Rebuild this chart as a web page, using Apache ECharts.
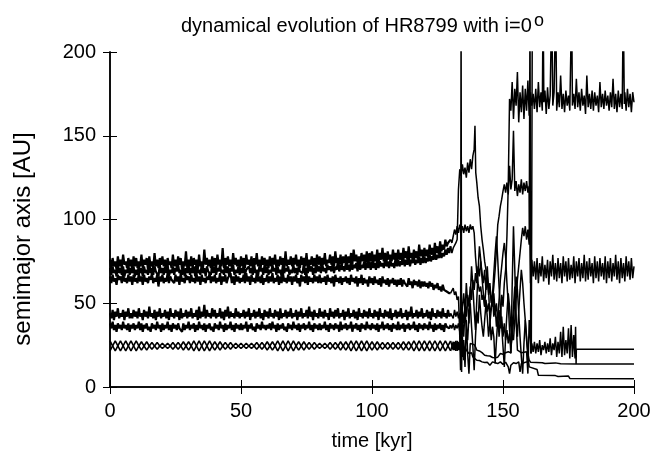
<!DOCTYPE html>
<html>
<head>
<meta charset="utf-8">
<script src="https://cdn.jsdelivr.net/npm/echarts@6/dist/echarts.min.js"></script>
<style>
html,body{margin:0;padding:0;background:#fff;}
#chart{width:667px;height:456px;}
</style>
</head>
<body>
<div id="chart"></div>
<script>
// Tick values
const xTicks = [0, 50, 100, 150, 200];
const yTicks = [0, 50, 100, 150, 200];

// Stable phase of the outer bands, sampled every 0.5 kyr from t = 0 to 130 kyr
const bandUpper = [
76,71,77,72,75,70,78,72,76,71,79,73,75,71,77,72,76,70,78,72,
77,71,75,72,79,71,76,73,77,70,78,72,75,71,80,72,76,71,77,73,
78,72,76,70,77,73,75,71,79,72,76,71,78,73,77,70,75,72,81,71,
76,72,78,71,77,73,76,70,79,72,75,71,82,73,77,72,76,71,78,72,
77,71,79,73,76,72,83,71,77,73,78,72,76,71,80,73,77,72,76,71,
78,72,77,71,79,73,76,72,78,71,77,73,80,72,76,71,78,73,77,72,
76,71,78,72,77,73,79,71,76,72,78,73,77,71,81,72,76,73,78,72,
77,73,79,72,76,71,78,73,77,72,80,71,76,73,78,72,77,71,79,73,
78,72,77,73,80,72,76,74,79,73,78,72,81,74,77,73,79,72,78,74,
79,73,78,74,80,73,82,75,79,74,78,73,80,75,79,74,81,73,80,75,
81,74,79,75,82,74,80,76,83,75,80,74,81,76,79,75,82,76,80,75,
82,76,80,75,83,77,81,76,84,77,80,76,82,77,81,76,85,78,82,77,
83,78,82,77,85,79,83,78,86,80,84,79,87,81,85,82,88,84,86,85,
88];
const bandMid = [
71,67,72,68,70,66,73,68,71,67,72,66,70,68,73,67,71,68,72,66,
70,67,73,68,71,66,72,68,70,67,74,68,71,67,72,69,70,66,73,68,
71,67,72,68,73,66,70,68,72,67,71,69,73,68,70,67,72,66,71,68,
73,67,71,68,72,66,74,68,70,67,73,68,71,66,72,69,70,67,73,68,
72,67,71,69,73,68,70,67,74,68,72,66,71,69,73,67,70,68,72,67,
71,68,73,67,70,69,72,68,71,67,74,68,70,66,72,69,71,67,73,68,
72,67,70,68,73,69,71,67,72,68,70,66,73,68,71,69,72,67,70,68,
73,68,71,67,72,69,70,68,74,67,71,68,73,69,72,67,71,68,73,69,
72,68,74,69,71,68,73,70,72,69,74,68,72,70,75,69,73,70,72,69,
74,70,73,69,75,70,73,71,74,69,76,70,73,71,75,70,74,71,75,70,
75,71,74,70,76,71,75,72,74,71,77,72,75,71,76,72,74,71,77,72,
76,72,75,73,77,72,76,73,78,72,76,74,77,73,76,74,78,73,77,74,
78,74,77,75,79,75,78,76,80,76,79,77,81,77,80,78,82,79,83,80,
84];
const bandLow = [
66,62,67,63,65,61,67,64,66,62,68,63,65,62,67,63,66,61,67,63,
65,62,68,63,66,61,67,63,65,62,66,64,68,62,65,63,67,60,66,63,
67,62,65,63,68,62,66,64,65,62,67,63,66,61,68,63,65,62,67,64,
66,62,67,63,65,62,68,63,66,61,67,63,65,62,66,64,68,62,66,63,
67,62,65,63,68,61,66,63,67,62,65,64,68,62,66,61,67,63,66,62,
65,63,67,62,68,63,66,61,67,63,65,62,68,63,66,62,67,61,65,63,
67,62,66,63,68,62,65,63,67,61,66,62,68,63,65,62,67,63,66,61,
66,63,67,62,65,60,67,63,66,62,68,61,66,63,65,62,67,63,66,62,
67,62,65,63,66,61,67,63,65,62,66,60,67,63,65,62,66,61,65,63,
66,62,65,61,67,63,65,62,66,60,65,62,67,61,65,62,64,60,66,62,
65,61,66,62,64,61,65,60,66,62,64,61,65,60,64,62,65,61,64,60,
64,61,65,60,64,62,63,60,65,61,63,59,64,61,63,60,64,59,63,60,
63,60,62,59,63,60,62,58,61,59,62,58,60,57,61,58,59,57,58,56,
56];
const midUpper = [
44,41,46,40,45,42,47,41,44,42,46,40,45,42,47,41,44,41,46,42,
45,41,47,42,44,40,46,42,45,41,48,42,44,41,46,40,45,42,47,41,
44,42,46,41,45,40,47,42,44,41,46,42,45,40,47,41,44,42,46,41,
45,42,47,41,44,42,46,40,48,41,45,42,49,41,46,42,44,41,47,42,
46,41,44,42,47,41,45,40,46,42,48,41,45,42,44,41,47,42,45,41,
44,42,46,41,45,42,47,40,44,42,46,41,45,42,47,41,44,40,46,42,
45,41,47,42,44,41,46,42,45,40,47,41,44,42,46,41,45,42,47,41,
44,42,46,40,45,42,47,41,44,42,46,41,48,42,45,40,46,42,44,41,
47,42,45,41,46,42,44,40,47,42,45,41,46,42,47,41,44,42,46,40,
45,42,47,41,44,42,46,41,45,40,47,42,44,41,46,42,45,41,47,42,
44,41,46,42,45,40,47,42,44,41,46,42,45,41,47,40,44,42,46,41,
45,42,47,41,44,42,46,40,45,42,48,41,44,42,46,41,45,42,47,41,
44,42,46,41,45,40,47,42,44,41,46,42,45,41,47,42,44,41,46,42,
44];
const midLower = [
38,35,39,34,37,33,38,35,37,34,39,35,37,34,38,33,37,35,38,34,
37,35,39,34,38,33,37,35,38,34,36,33,38,35,37,34,39,35,37,33,
38,34,37,35,39,34,37,33,38,35,37,34,38,35,36,33,38,34,37,35,
39,34,37,35,38,33,37,34,39,35,37,34,38,33,37,35,38,34,36,33,
38,35,37,34,39,35,37,33,38,34,37,35,39,34,37,33,38,35,37,34,
38,34,37,35,39,33,37,35,38,34,36,33,38,35,37,34,39,35,37,34,
37,35,38,34,39,35,37,33,38,34,37,35,38,34,36,33,38,35,37,34,
39,35,37,34,38,33,37,35,38,34,37,35,39,34,37,33,38,35,37,34,
38,34,37,35,39,34,37,33,38,35,37,34,38,35,37,33,39,34,37,35,
38,34,37,35,39,33,37,35,38,34,37,33,38,35,37,34,39,35,37,34,
38,35,37,34,38,33,37,35,39,34,37,35,38,34,37,33,38,35,37,34,
39,34,37,35,38,33,37,35,38,34,37,35,39,34,37,33,38,35,37,34,
38,35,37,34,39,35,37,33,38,34,37,35,38,34,37,33,38,36,37,35,
37];
// Inner braided pair, sampled every 1 kyr from t = 0 to 130 kyr
const innerA = [
27.5,24.5,21.5,24.5,27.5,24.5,21.5,24.5,27.5,24.5,21.5,24.5,27,24.5,22,24.5,26.5,24.5,22.5,24.5,
26,24.5,23,24.5,26.5,24.5,22.5,24.5,27,24.5,22,24.5,27.5,24.5,21.5,24.5,27.5,24.5,21.5,24.5,
27,24.5,22,24.5,26.5,24.5,22.5,24.5,26,24.5,23,24.5,26,24.5,23,24.5,26.5,24.5,22.5,24.5,
27,24.5,22,24.5,27.5,24.5,21.5,24.5,27.5,24.5,21.5,24.5,27,24.5,22,24.5,26.5,24.5,22.5,24.5,
26,24.5,23,24.5,26.5,24.5,22.5,24.5,27,24.5,22,24.5,27.5,24.5,21.5,24.5,27.5,24.5,21.5,24.5,
27,24.5,22,24.5,26.5,24.5,22.5,24.5,26.5,24.5,22.5,24.5,27,24.5,22,24.5,27.5,24.5,21.5,24.5,
27.5,24.5,21.5,24.5,27.5,24.5,21.5,24.5,27.5,24.5,21.5];
const innerB = [
21.5,24.5,27.5,24.5,21.5,24.5,27.5,24.5,21.5,24.5,27.5,24.5,22,24.5,27,24.5,22.5,24.5,26.5,24.5,
23,24.5,26,24.5,22.5,24.5,26.5,24.5,22,24.5,27,24.5,21.5,24.5,27.5,24.5,21.5,24.5,27.5,24.5,
22,24.5,27,24.5,22.5,24.5,26.5,24.5,23,24.5,26,24.5,23,24.5,26,24.5,22.5,24.5,26.5,24.5,
22,24.5,27,24.5,21.5,24.5,27.5,24.5,21.5,24.5,27.5,24.5,22,24.5,27,24.5,22.5,24.5,26.5,24.5,
23,24.5,26,24.5,22.5,24.5,26.5,24.5,22,24.5,27,24.5,21.5,24.5,27.5,24.5,21.5,24.5,27.5,24.5,
22,24.5,27,24.5,22.5,24.5,26.5,24.5,22.5,24.5,26.5,24.5,22,24.5,27,24.5,21.5,24.5,27.5,24.5,
21.5,24.5,27.5,24.5,21.5,24.5,27.5,24.5,21.5,24.5,27.5];

// Chaotic phase and afterwards: [time kyr, AU]
const chaosUpper = [
[130.5,86],[131,90],[131.5,94],[132,91],[132.5,96],[133,92],[133.5,97],[134,93],[134.5,96],[135,92],
[135.5,97],[136,93],[136.5,96],[137,92],[137.5,97],[138,94],[138.5,96],[139,92],[139.5,78],[140,68],
[140.5,62],[141,57],[141.5,60],[142,52],[142.5,55],[143,48],[143.5,52],[144,45],[144.5,50],[145,44],
[145.5,48],[146,52],[146.5,60],[147,70],[147.5,82],[148,97],[148.5,102],[149,108],[149.5,112],[150,117],
[150.5,121],[151,116],[151.5,122],[152,115],[152.5,132],[153,118],[153.5,124],[154,153],[154.5,117],[155,123],
[155.5,114],[156,121],[156.5,116],[157,124],[157.5,115],[158,122],[158.5,117],[159,123],[159.5,116],[160,120],
[160.5,62],[161,76],[161.5,66],[162,75],[162.5,64],[163,77],[163.5,62],[164,74],[164.5,66],[165,78],
[165.5,63],[166,73],[166.5,65],[167,76],[167.5,61],[168,75],[168.5,66],[169,79],[169.5,64],[170,74],
[170.5,63],[171,77],[171.5,65],[172,74],[172.5,62],[173,78],[173.5,66],[174,75],[174.5,63],[175,77],
[175.5,64],[176,73],[176.5,65],[177,78],[177.5,62],[178,75],[178.5,66],[179,77],[179.5,63],[180,74],
[180.5,65],[181,79],[181.5,63],[182,75],[182.5,64],[183,77],[183.5,66],[184,74],[184.5,62],[185,78],
[185.5,65],[186,75],[186.5,63],[187,77],[187.5,66],[188,74],[188.5,64],[189,78],[189.5,62],[190,75],
[190.5,65],[191,77],[191.5,63],[192,74],[192.5,66],[193,79],[193.5,64],[194,75],[194.5,62],[195,77],
[195.5,65],[196,74],[196.5,63],[197,78],[197.5,66],[198,75],[198.5,64],[199,77],[199.5,65],[200,72]];
const chaosMid = [
[130.5,80],[131,83],[131.5,82],[132,86],[132.5,88],[133,118],[133.5,130],[134,126],[134.5,133],[135,127],
[135.5,131],[136,125],[136.5,134],[137,128],[137.5,136],[138,130],[138.5,138],[139,142],[139.3,156],[139.6,128],
[140,122],[140.5,113],[141,108],[141.5,96],[142,88],[142.5,82],[143,75],[143.5,70],[144,66],[144.5,58],
[145,62],[145.5,50],[146,55],[146.5,42],[147,48],[147.5,36],[148,44],[148.5,30],[149,40],[149.5,55],
[150,48],[150.5,62],[151,70],[151.5,90],[152,120],[152.5,172],[153,165],[153.5,182],[154,160],[154.5,178],
[155,168],[155.5,188],[156,158],[156.5,176],[157,164],[157.5,180],[158,160],[158.5,178],[159,165],[159.5,183],
[160,162],[160.5,176],[161,168],[161.5,175],[162,166],[162.5,178],[163,164],[163.5,182],[164,167],[164.5,176],
[165,165],[165.3,230],[165.6,170],[166,177],[166.5,163],[167,179],[167.5,166],[168,174],[168.6,230],[169,168],
[169.5,176],[170.1,230],[170.5,165],[171,176],[171.5,167],[172,186],[172.5,166],[173,175],[173.5,164],[174,177],
[174.5,168],[175,174],[175.5,165],[176.2,230],[176.5,168],[177,175],[177.5,166],[178,184],[178.5,167],[179,176],
[179.5,165],[180,178],[180.5,168],[181,174],[181.5,163],[182,186],[182.5,167],[183,175],[183.5,166],[184,177],
[184.5,165],[185,176],[185.5,168],[186,174],[186.5,164],[187,182],[187.5,167],[188,175],[188.5,166],[189,177],
[189.5,168],[190,174],[190.5,165],[191,176],[191.5,167],[192,184],[192.5,166],[193,175],[193.5,164],[194,177],
[194.5,167],[195,175],[195.5,166],[195.9,230],[196.3,169],[196.5,176],[197,165],[197.5,178],[198,167],[198.5,175],
[199,164],[199.5,176],[200,170]];
const chaosLow = [
[130.5,57],[131,59],[131.5,55],[132,57],[132.5,52],[133,54],[133.5,30],[133.8,10],[134,225],[134.2,9],
[134.5,45],[135,38],[135.5,50],[136,42],[136.5,55],[137,48],[137.5,60],[138,52],[138.5,64],[139,58],
[139.5,68],[140,62],[140.5,72],[141,66],[141.5,75],[142,68],[142.5,62],[143,70],[143.5,58],[144,64],
[144.5,55],[145,60],[145.5,52],[146,48],[146.5,56],[147,44],[147.5,50],[148,40],[148.5,46],[149,35],
[149.5,42],[150,30],[150.5,38],[151,28],[151.5,34],[152,26],[152.5,32],[153,24],[153.5,30],[154,28],
[154.5,40],[155,52],[155.5,64],[156,72],[156.5,80],[157,88],[157.5,95],[158,90],[158.5,96],[159,88],
[159.5,94],[160,85],[160.3,225],[160.6,20],[161,26],[161.5,21],[162,27],[162.5,20],[163,26],[163.5,21],
[164,28],[164.5,19],[165,25],[165.5,22],[166,27],[166.5,20],[167,26],[167.5,21],[168,29],[168.5,19],
[169,26],[169.5,22],[170,30],[170.5,18],[171,27],[171.5,20],[172,33],[172.5,18],[173,36],[173.5,19],
[174,28],[174.5,20],[175,35],[175.5,17],[176,37],[176.5,18],[177,31],[177.5,17],[177.7,36],[177.9,13.8],
[178,22.6],[200,22.6]];
const chaosMidUpper = [
[130.5,45],[131,41],[131.5,46],[132,42],[132.5,45],[133,41],[133.5,44],[134,30],[134.5,48],[135,56],
[135.5,44],[136,62],[136.5,50],[137,38],[137.5,54],[138,72],[138.5,60],[139,46],[139.5,34],[140,52],
[140.5,70],[141,84],[141.5,76],[142,65],[142.5,56],[143,48],[143.5,60],[144,72],[144.5,58],[145,40],
[145.5,28],[146,36],[146.5,30],[147,14],[147.5,28],[148,40],[148.5,52],[149,64],[149.5,72],[150,80],
[150.5,86],[151,78],[151.5,62],[152,50],[152.5,34],[153,20],[153.5,36],[154,48],[154.5,60],[155,40],
[155.5,30],[156,45],[156.5,58],[157,70],[157.5,62],[158,50],[158.5,40],[159,28],[159.5,20],[160,16],
[160.5,14.8],[165,14.5],[166,14.0],[170,14.4],[172,13.9],[178,13.8],[200,13.7]];
const chaosMidLower = [
[130.5,35],[131,38],[131.5,34],[132,37],[132.5,35],[133,38],[133.5,33],[134,18],[134.5,40],[135,30],
[135.5,46],[136,36],[136.5,28],[137,42],[137.5,50],[138,36],[138.5,24],[139,10],[139.5,30],[140,45],
[140.5,38],[141,55],[141.5,44],[142,36],[142.5,30],[143,40],[143.5,50],[144,42],[144.5,30],[145,38],
[145.5,46],[146,55],[146.5,68],[147,80],[147.5,90],[148,76],[148.5,60],[149,48],[149.5,36],[150,24],
[150.5,12],[151,30],[151.5,44],[152,56],[152.5,48],[153,36],[153.5,28],[154,40],[154.5,52],[155,66],
[155.5,58],[156,44],[156.5,30],[157,18],[157.5,8],[158,26],[158.5,40],[159,30],[159.5,18],[160,12],
[160.5,11],[163,10.5],[163.5,7],[170,6.8],[171,6.3],[175,6.5],[175.5,5.1],[200,5.0]];
const chaosInnerA = [
[130.5,22],[131,27],[131.5,22],[132,27.5],[132.5,21.5],[133,27],[133.5,22],[134,26],[134.5,18],[135,28],
[135.5,12],[136,40],[136.5,20],[137,8],[137.5,26],[138,25.5],[139,25.3],[139.5,24],[140,22],[141,21.5],
[142,20.5],[143,19],[144,18.6],[145,18.5],[146,17.6],[147,17.5],[148,17.8],[149,20],[150,19.5],[151,20.5],
[152,21],[153,20.5],[153.5,60],[154,96],[154.5,70],[155,40],[155.5,22],[156,21],[157,20.5],[158,20.8],
[159,21],[159.5,8],[160,40],[160.8,20],[161.2,230]];
const chaosInnerB = [
[130.5,27],[131,22],[131.5,27],[132,21.5],[132.5,27.5],[133,22],[133.5,26],[134,20],[134.5,30],[135,16],
[135.5,24],[136,22],[136.5,21],[137,20],[137.5,19],[138,20.5],[138.5,18],[139,17.5],[140,16],[141,15.8],
[142,15],[143,14.6],[144,14.8],[145,13],[145.5,12],[146,15],[147,14.5],[148,14],[149,15],[150,13.5],
[151,14.8],[152,12],[152.5,8],[153,13],[154,14.5],[155,14],[156,15],[156.5,9],[157,14],[158,14.5],
[159,15],[159.8,14.8]];

// [stable values, sample step (kyr), chaotic tail, stable line width]
const planets = [
  [bandUpper, 0.5, chaosUpper, 2.2],
  [bandMid, 0.5, chaosMid, 2.2],
  [bandLow, 0.5, chaosLow, 2.2],
  [midUpper, 0.5, chaosMidUpper, 2.2],
  [midLower, 0.5, chaosMidLower, 2.2],
  [innerA, 1, chaosInnerA, 1.6],
  [innerB, 1, chaosInnerB, 1.6]
];

const FONT = 'Liberation Sans';
const chart = echarts.init(document.getElementById('chart'), null, {renderer: 'canvas'});

const axisCommon = {
  type: 'value',
  min: 0, max: 200, interval: 50,
  splitLine: {show: false},
  axisLine: {show: true, lineStyle: {color: '#000', width: 1.5}},
  axisTick: {show: true, inside: true, length: 7, lineStyle: {color: '#000', width: 1}}
};

const series = [];
planets.forEach(function (p) {
  const stable = p[0].map(function (v, i) { return [i * p[1], v]; });
  const chaos = [stable[stable.length - 1]].concat(p[2]);
  series.push({type: 'line', data: stable, symbol: 'none', clip: true, silent: true,
    lineStyle: {color: '#000', width: p[3]}});
  series.push({type: 'line', data: chaos, symbol: 'none', clip: true, silent: true,
    lineStyle: {color: '#000', width: 1.5}});
});

chart.setOption({
  animation: false,
  backgroundColor: '#fff',
  textStyle: {fontFamily: FONT},
  grid: {left: 110, right: 33, top: 52, bottom: 64, containLabel: false},
  graphic: [
    {type: 'text', left: 181, top: 16, style: {text: 'dynamical evolution of HR8799 with i=0', fontFamily: FONT, fontSize: 20, fill: '#000'}},
    {type: 'text', left: 534, top: 12, style: {text: 'o', fontFamily: FONT, fontSize: 18, fill: '#000'}},
    {type: 'text', x: 23, y: 239, rotation: Math.PI / 2,
      style: {text: 'semimajor axis [AU]', fontFamily: FONT, fontSize: 24, fill: '#000', align: 'center', verticalAlign: 'middle'}}
  ],
  xAxis: [
    Object.assign({}, axisCommon, {
      position: 'bottom',
      name: 'time [kyr]', nameLocation: 'middle', nameGap: 44,
      nameTextStyle: {fontFamily: FONT, fontSize: 20, color: '#000'},
      axisLabel: {show: true, fontFamily: FONT, fontSize: 20, color: '#000', margin: 14,
        formatter: function (v) { return xTicks.indexOf(v) >= 0 ? String(v) : ''; }}
    }),
    Object.assign({}, axisCommon, {position: 'top', axisLabel: {show: false}})
  ],
  yAxis: [
    Object.assign({}, axisCommon, {
      position: 'left',
      axisLabel: {show: true, fontFamily: FONT, fontSize: 20, color: '#000', margin: 14,
        formatter: function (v) { return yTicks.indexOf(v) >= 0 ? String(v) : ''; }}
    }),
    Object.assign({}, axisCommon, {position: 'right', axisLabel: {show: false}})
  ],
  series: series
});
</script>
</body>
</html>
